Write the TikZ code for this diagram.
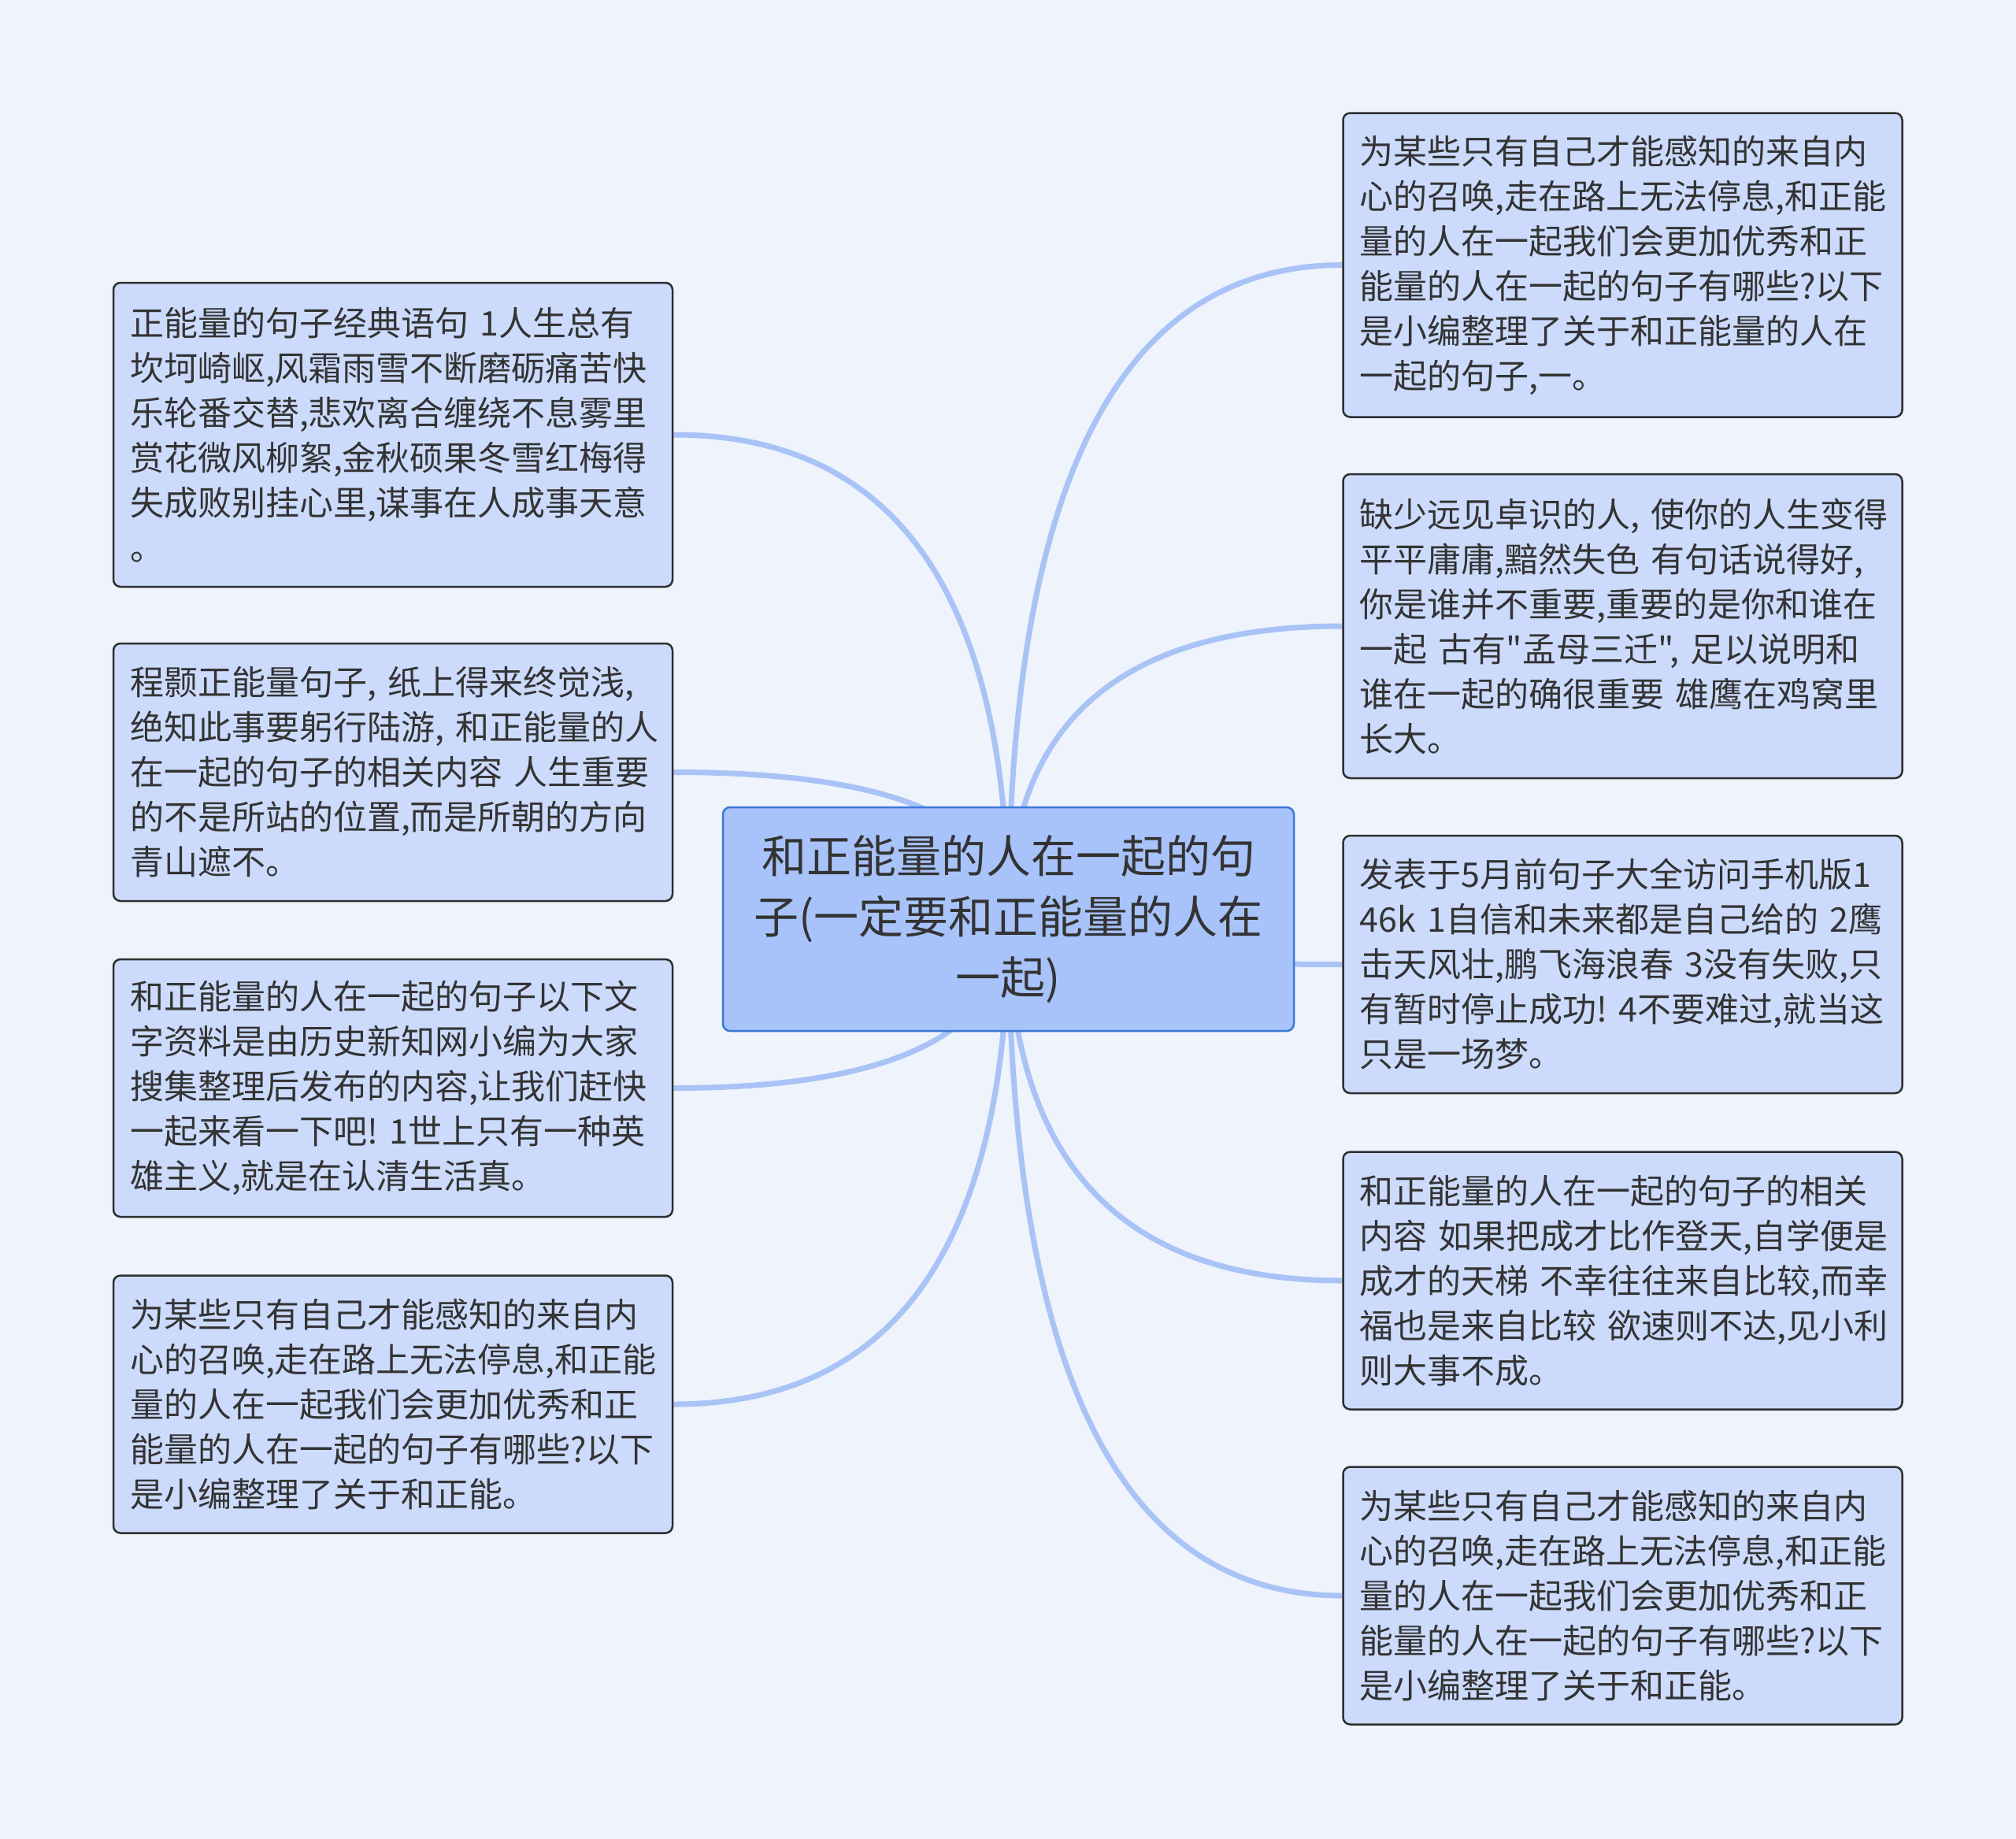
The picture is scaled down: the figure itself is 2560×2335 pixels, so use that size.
\documentclass[tikz,border=0pt]{standalone}
\usepackage{fontspec}
\setmainfont{Noto Sans CJK SC}[Ligatures=TeXOff]
\usetikzlibrary{calc,backgrounds}
\definecolor{bgcol}{HTML}{EEF3FC}
\definecolor{leaffill}{HTML}{CCDBFC}
\definecolor{leafline}{HTML}{2F2F2F}
\definecolor{rootfill}{HTML}{A8C3FA}
\definecolor{rootline}{HTML}{3C78D8}
\definecolor{edgecol}{HTML}{A9C3F6}
\definecolor{txt}{HTML}{333333}
\tikzset{
  leaf/.style={draw=leafline, line width=2.5pt, fill=leaffill, rounded corners=9pt,
    text=txt, font=\fontsize{43}{57}\selectfont, align=left, text width=668pt,
    inner xsep=21pt, inner ysep=8pt, minimum width=710pt, anchor=center},
  tall/.style={minimum height=386pt},
  short/.style={minimum height=327pt},
  root/.style={draw=rootline, line width=2.5pt, fill=rootfill, rounded corners=9pt,
    text=txt, font=\fontsize{57}{77}\selectfont, align=center,
    minimum width=725pt, minimum height=284pt, inner sep=8pt, anchor=center},
  edge/.style={draw=edgecol, line width=7pt}
}
\begin{document}
\begin{tikzpicture}[x=1pt,y=-1pt]
\useasboundingbox (0,0) rectangle (2560,2335);
\node[root] (c) at (1280.5,1167) {和正能量的人在一起的句\\子(一定要和正能量的人在\\一起)};
\node[leaf,tall] (l1) at (499,552) {正能量的句子经典语句~1人生总有\\坎坷崎岖,风霜雨雪不断磨砺痛苦快\\乐轮番交替,悲欢离合缠绕不息雾里\\赏花微风柳絮,金秋硕果冬雪红梅得\\失成败别挂心里,谋事在人成事天意\\。};
\node[leaf,short] (l2) at (499,980.5) {程颢正能量句子,~纸上得来终觉浅,\\绝知此事要躬行陆游,~和正能量的人\\在一起的句子的相关内容~人生重要\\的不是所站的位置,而是所朝的方向\\青山遮不。};
\node[leaf,short] (l3) at (499,1381.5) {和正能量的人在一起的句子以下文\\字资料是由历史新知网小编为大家\\搜集整理后发布的内容,让我们赶快\\一起来看一下吧!~1世上只有一种英\\雄主义,就是在认清生活真。};
\node[leaf,short] (l4) at (499,1783) {为某些只有自己才能感知的来自内\\心的召唤,走在路上无法停息,和正能\\量的人在一起我们会更加优秀和正\\能量的人在一起的句子有哪些?以下\\是小编整理了关于和正能。};
\node[leaf,tall] (r1) at (2060.5,336.5) {为某些只有自己才能感知的来自内\\心的召唤,走在路上无法停息,和正能\\量的人在一起我们会更加优秀和正\\能量的人在一起的句子有哪些?以下\\是小编整理了关于和正能量的人在\\一起的句子,一。};
\node[leaf,tall] (r2) at (2060.5,795) {缺少远见卓识的人,~使你的人生变得\\平平庸庸,黯然失色~有句话说得好,\\你是谁并不重要,重要的是你和谁在\\一起~古有"孟母三迁",~足以说明和\\谁在一起的确很重要~雄鹰在鸡窝里\\长大。};
\node[leaf,short] (r3) at (2060.5,1224.5) {发表于5月前句子大全访问手机版1\\46k~1自信和未来都是自己给的~2鹰\\击天风壮,鹏飞海浪春~3没有失败,只\\有暂时停止成功!~4不要难过,就当这\\只是一场梦。};
\node[leaf,short] (r4) at (2060.5,1626) {和正能量的人在一起的句子的相关\\内容~如果把成才比作登天,自学便是\\成才的天梯~不幸往往来自比较,而幸\\福也是来自比较~欲速则不达,见小利\\则大事不成。};
\node[leaf,short] (r5) at (2060.5,2026) {为某些只有自己才能感知的来自内\\心的召唤,走在路上无法停息,和正能\\量的人在一起我们会更加优秀和正\\能量的人在一起的句子有哪些?以下\\是小编整理了关于和正能。};
\begin{scope}[on background layer]
  \fill[bgcol] (0,0) rectangle (2560,2335);
  \foreach \n/\a in {l1/east,l2/east,l3/east,l4/east,r1/west,r2/west,r3/west,r4/west,r5/west}{
    \coordinate (k) at (c.center|-\n.\a);
    \draw[edge] (c.center) .. controls ($(c.center)!0.6667!(k)$) and ($(\n.\a)!0.6667!(k)$) .. (\n.\a);
  }
\end{scope}
\end{tikzpicture}
\end{document}
